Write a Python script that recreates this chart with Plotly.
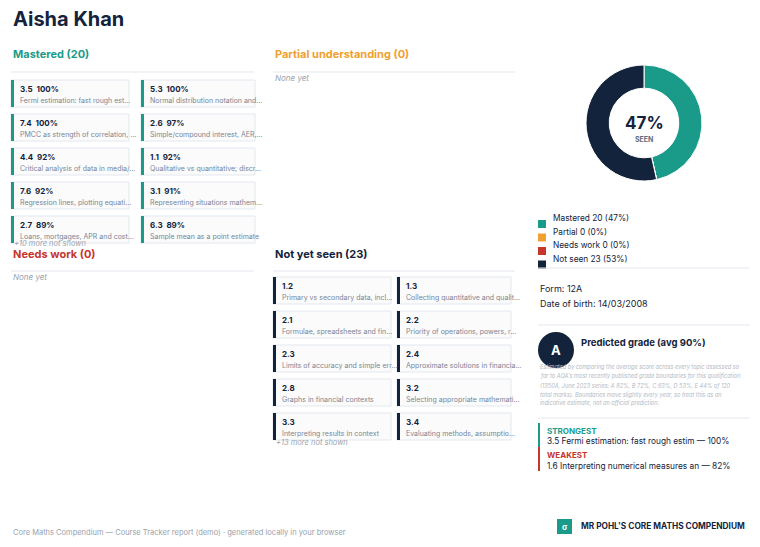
import plotly.graph_objects as go

student = "Aisha Khan"
mastered_codes = ["3.5","5.3","7.4","2.6","4.4","1.1","7.6","3.1","2.7","6.3"]
mastered_pcts = [100,100,100,97,92,92,92,91,89,89]
mastered_desc = ["Fermi estimation: fast rough est…","Normal distribution notation and…",
 "PMCC as strength of correlation, …","Simple/compound interest, AER,…",
 "Critical analysis of data in media/…","Qualitative vs quantitative; discr…",
 "Regression lines, plotting equati…","Representing situations mathem…",
 "Loans, mortgages, APR and cost…","Sample mean as a point estimate"]
unseen_codes = ["1.2","1.3","2.1","2.2","2.3","2.4","2.8","3.2","3.3","3.4"]
unseen_desc = ["Primary vs secondary data, incl…","Collecting quantitative and qualit…",
 "Formulae, spreadsheets and fin…","Priority of operations, powers, r…",
 "Limits of accuracy and simple err…","Approximate solutions in financia…",
 "Graphs in financial contexts","Selecting appropriate mathemati…",
 "Interpreting results in context","Evaluating methods, assumptio…"]
status_labels = ["Mastered","Partial","Needs work","Not seen"]
status_counts = [20,0,0,23]
status_pcts = [47,0,0,53]

TEAL="#1a9b8a"; NAVY="#13233b"; ORANGE="#f0a030"; RED="#c7362b"
LINE="#e3e8ef"; FONT="Inter, Liberation Sans, sans-serif"
OFF=8; W=760-OFF; H=547-OFF

fig = go.Figure()
shapes=[]; ann=[]
def text(x,y,t,size=9,color=NAVY,bold=False,italic=False,anchor="left"):
    if bold: t=f"<b>{t}</b>"
    if italic: t=f"<i>{t}</i>"
    ann.append(dict(x=x,y=y,xref="x",yref="y",text=t,showarrow=False,xanchor=anchor,
                    yanchor="middle",font=dict(size=size,color=color,family=FONT)))
def rect(x0,y0,x1,y1,fill,line=None):
    shapes.append(dict(type="rect",x0=x0,y0=y0,x1=x1,y1=y1,xref="x",yref="y",
                       fillcolor=fill,line=dict(color=line or fill,width=1 if line else 0),layer="below"))
def hline(x0,x1,y):
    shapes.append(dict(type="line",x0=x0,x1=x1,y0=y,y1=y,xref="x",yref="y",line=dict(color=LINE,width=1)))

text(11,19,student,20,NAVY,True)

def cards(x0s,ys,codes,descs,pcts,barc):
    for i,(c,d) in enumerate(zip(codes,descs)):
        x=x0s[i%2]; y=ys[i//2]
        rect(x,y,x+(118 if i%2==0 else 114),y+27,"#fbfbfc",LINE)
        rect(x,y,x+3,y+27,barc)
        head=c if pcts is None else f"{c}  {pcts[i]}%"
        text(x+7,y+8.5,head,8,NAVY,True)
        text(x+7,y+20,d,7,"#7a8594")

text(11,54,"Mastered (20)",11,TEAL,True); hline(11,254,72)
cards([11,141],[80,114,148,182,216],mastered_codes,mastered_desc,mastered_pcts,TEAL)
text(12,243,"+10 more not shown",7.5,"#9aa3ae",italic=True)
text(273,54,"Partial understanding (0)",11,ORANGE,True); hline(273,515,72)
text(273,78,"None yet",8,"#9aa3ae",italic=True)
text(11,254,"Needs work (0)",11,RED,True); hline(11,254,271)
text(11,277,"None yet",8,"#9aa3ae",italic=True)
text(273,254,"Not yet seen (23)",11,NAVY,True); hline(273,515,271)
cards([273,397],[277,311,345,379,413],unseen_codes,unseen_desc,None,NAVY)
text(274,442,"+13 more not shown",7.5,"#9aa3ae",italic=True)

def px(x): return (x-OFF)/W
def py(y): return 1-(y-OFF)/H
fig.add_trace(go.Pie(values=status_counts,labels=status_labels,hole=0.6,sort=False,direction="clockwise",
    marker=dict(colors=[TEAL,ORANGE,RED,NAVY],line=dict(color="white",width=1)),
    textinfo="none",hoverinfo="label+value",showlegend=False,
    domain=dict(x=[px(586),px(702)],y=[py(182),py(64)])))
text(644,123,"47%",17,NAVY,True,anchor="center")
text(644,139,"SEEN",7,"#5d6b80",True,anchor="center")

for i,(l,c,p,col) in enumerate(zip(status_labels,status_counts,status_pcts,[TEAL,ORANGE,RED,NAVY])):
    y=217+i*13.5
    rect(538,y+3,546,y+11,col)
    text(551,y+1,f"{l} {c} ({p}%)",8.3,NAVY)
hline(538,750,268)
text(538,288,"Form: 12A",9,NAVY); text(538,303,"Date of birth: 14/03/2008",9,NAVY)
hline(538,750,325)
shapes.append(dict(type="circle",x0=538,x1=574,y0=332,y1=368,xref="x",yref="y",fillcolor=NAVY,line=dict(width=0)))
text(556,350,"A",13,"white",True,anchor="center")
text(579,343,"Predicted grade (avg 90%)",9.5,NAVY,True)
fine=["Estimated by comparing the average score across every topic assessed so",
 "far to AQA's most recently published grade boundaries for this qualification",
 "(1350A, June 2023 series: A 82%, B 72%, C 63%, D 53%, E 44% of 120",
 "total marks). Boundaries move slightly every year, so treat this as an",
 "indicative estimate, not an official prediction."]
for i,l in enumerate(fine):
    text(538,367+i*9,l,5.6,"#b3bac4",italic=True)
hline(538,750,418)
rect(538,423,540,447,TEAL); text(545,431,"STRONGEST",8,TEAL,True)
text(545,441,"3.5 Fermi estimation: fast rough estim — 100%",8.3,NAVY)
rect(538,447,540,471,RED); text(545,455,"WEAKEST",8,RED,True)
text(545,466,"1.6 Interpreting numerical measures an — 82%",8.3,NAVY)

text(11,532,"Core Maths Compendium — Course Tracker report (demo) · generated locally in your browser",7.5,"#98a1ad")
rect(557,519,572,534,TEAL)
text(564.5,526.5,"σ",8,"white",True,anchor="center")
text(579,526,"MR POHL'S CORE MATHS COMPENDIUM",8.3,NAVY,True)

fig.update_layout(width=W,height=H,margin=dict(l=0,r=0,t=0,b=0),
    paper_bgcolor="white",plot_bgcolor="white",shapes=shapes,annotations=ann,
    xaxis=dict(range=[OFF,760],visible=False,fixedrange=True),
    yaxis=dict(range=[547,OFF],visible=False,fixedrange=True))
fig.write_html("out.html")
